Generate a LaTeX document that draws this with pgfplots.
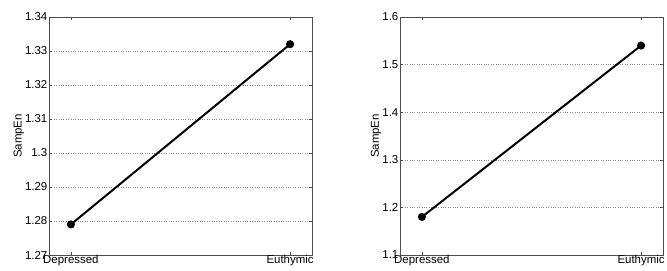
\documentclass[border=0pt]{standalone}
\usepackage{pgfplots}
\pgfplotsset{compat=1.18}
\usepackage{fontspec}
\setmainfont{Liberation Sans}
\begin{document}
\begin{tikzpicture}
\useasboundingbox (0bp,0bp) rectangle (667bp,271bp);
\pgfplotsset{
  every axis/.append style={
    scale only axis,
    width=263bp, height=238bp,
    anchor=south west,
    xmin=-0.1, xmax=1.1,
    xtick={0,1},
    xticklabels={Depressed,Euthymic},
    tick align=inside,
    major tick length=3bp,
    axis line style={black!70, line width=0.7pt},
    tick style={black!70, line width=0.6pt},
    ymajorgrids,
    grid style={dotted, black!45, line width=0.6pt},
    ylabel={SampEn},
    ticklabel style={font=\fontsize{11.5}{13}\selectfont},
    label style={font=\fontsize{11.5}{13}\selectfont},
    /pgf/number format/assume math mode=true,
    yticklabel style={inner sep=1.5pt},
    xticklabel style={inner sep=1pt, yshift=1pt},
    ylabel style={yshift=-4bp},
  }
}
\begin{axis}[at={(49bp,16bp)},
  ymin=1.27, ymax=1.34, ytick={1.27,1.28,...,1.341},
  yticklabel style={/pgf/number format/fixed,/pgf/number format/precision=2},
]
\addplot[black, line width=2pt, mark=*, mark size=3pt] coordinates {(0,1.279) (1,1.332)};
\end{axis}
\begin{axis}[at={(400bp,16bp)},
  ymin=1.1, ymax=1.6, ytick={1.1,1.2,...,1.61},
  yticklabel style={/pgf/number format/fixed,/pgf/number format/precision=1},
]
\addplot[black, line width=2pt, mark=*, mark size=3pt] coordinates {(0,1.18) (1,1.54)};
\end{axis}
\end{tikzpicture}
\end{document}
